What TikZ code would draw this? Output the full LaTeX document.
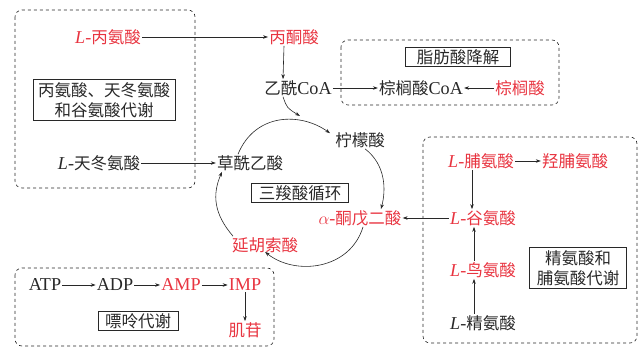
\documentclass[tikz,border=0pt]{standalone}
\usepackage{fontspec}
\setmainfont[Scale=1.1]{Liberation Serif}
\newfontfamily\cjk{Noto Sans CJK SC}
\usetikzlibrary{arrows.meta}
\definecolor{hl}{RGB}{232,52,64}
\definecolor{ink}{RGB}{40,40,40}
\newcommand{\zh}[1]{{\cjk #1}}
\newcommand{\Lp}{\textit{L}-}
\begin{document}
\begin{tikzpicture}[x=1pt,y=-1pt,
  every node/.style={font=\fontsize{16.5}{20}\selectfont, text=ink, inner sep=1pt, anchor=center},
  red/.style={text=hl},
  lbl/.style={draw=ink, line width=0.6pt, inner xsep=7pt, inner ysep=2pt, align=center},
  region/.style={draw=ink, dashed, line width=0.6pt, rounded corners=7pt},
  arr/.style={draw=ink, line width=0.6pt, -{Stealth[length=5pt,width=3.5pt]}}]
\useasboundingbox (0,0) rectangle (640,347);
% regions
\draw[region] (15,10) rectangle (195,188);
\draw[region] (341,40) rectangle (559,105);
\draw[region] (423,137) rectangle (637,343);
\draw[region] (15,268) rectangle (274,346);
% nodes
\node[red] (ala) at (108,37) {\Lp\zh{丙氨酸}};
\node[red] (pyr) at (294,37) {\zh{丙酮酸}};
\node (acoa) at (298,88) {\zh{乙酰}CoA};
\node (pcoa) at (421,88) {\zh{棕榈酸}CoA};
\node[red] (palm) at (520,88) {\zh{棕榈酸}};
\node[lbl, inner xsep=11pt] (fab) at (458,57) {\zh{脂肪酸降解}};
\node[lbl, inner xsep=5pt, inner ysep=3pt] (aab) at (104,100) {\zh{丙氨酸、天冬氨酸}\\\zh{和谷氨酸代谢}};
\node (asp) at (99,163) {\Lp\zh{天冬氨酸}};
\node (oaa) at (250,163) {\zh{草酰乙酸}};
\node (cit) at (360,140) {\zh{柠檬酸}};
\node[lbl] (tca) at (300,193) {\zh{三羧酸循环}};
\node[red] (akg) at (360,218) {$\alpha$-\zh{酮戊二酸}};
\node[red] (fum) at (265,245) {\zh{延胡索酸}};
\node[red] (glu) at (483,218) {\Lp\zh{谷氨酸}};
\node[red] (pro) at (481,161) {\Lp\zh{脯氨酸}};
\node[red] (hyp) at (575,161) {\zh{羟脯氨酸}};
\node[red] (orn) at (483,270) {\Lp\zh{鸟氨酸}};
\node (arg) at (483,323) {\Lp\zh{精氨酸}};
\node[lbl, inner ysep=3pt] (apb) at (578,268) {\zh{精氨酸和}\\\zh{脯氨酸代谢}};
\node (atp) at (45,285) {ATP};
\node (adp) at (115,285) {ADP};
\node[red] (amp) at (181,285) {AMP};
\node[red] (imp) at (245,285) {IMP};
\node[red] (ino) at (245,330) {\zh{肌苷}};
\node[lbl] (pur) at (138,321) {\zh{嘌呤代谢}};
% straight arrows
\draw[arr] (ala) -- (pyr);
\draw[arr] ([xshift=-10pt]pyr.south) -- ([xshift=-15pt]acoa.north);
\draw[arr] (acoa) -- (pcoa);
\draw[arr] (palm) -- (pcoa);
\draw[arr] (asp) -- (oaa);
\draw[arr] (glu) -- (akg);
\draw[arr] (pro) -- (hyp);
\draw[arr] ([xshift=-9pt]pro.south) -- ([xshift=-11pt]glu.north);
\draw[arr] ([xshift=-9pt]orn.north) -- ([xshift=-9pt]glu.south);
\draw[arr] ([xshift=-9pt]arg.north) -- ([xshift=-9pt]orn.south);
\draw[arr] (atp) -- (adp);
\draw[arr] (adp) -- (amp);
\draw[arr] (amp) -- (imp);
\draw[arr] (imp) -- (ino);
% cycle
\coordinate (join) at (300,116);
\draw[arr] ([xshift=-12pt]oaa.north) .. controls (255,113) and (300,112) .. ([xshift=-4pt,yshift=-2pt]cit.north west);
\draw[arr] ([xshift=-15pt]acoa.south) .. controls (287,108) .. (join);
\draw[arr] ([xshift=5pt]cit.south) .. controls (386,165) and (386,190) .. ([xshift=21pt]akg.north);
\draw[arr] ([xshift=3pt]akg.south) .. controls (350,270) and (295,276) .. ([xshift=0pt,yshift=2pt]fum.south);
\draw[arr] ([xshift=-32pt]fum.north) .. controls (214,214) and (212,195) .. ([xshift=-28pt]oaa.south);
\end{tikzpicture}
\end{document}
